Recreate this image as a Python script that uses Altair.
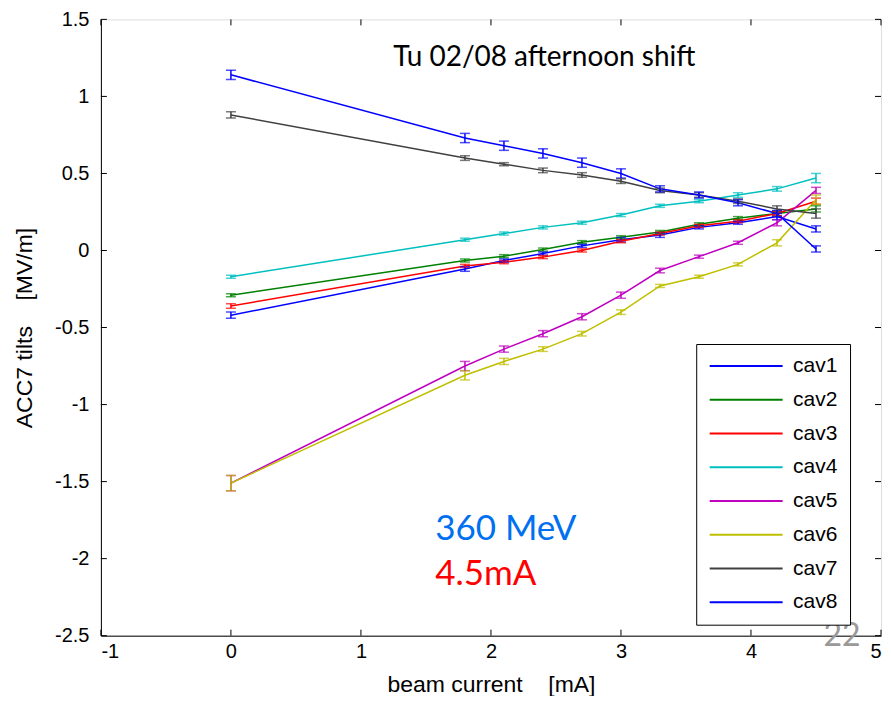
import altair as alt
import pandas as pd

# ---- data ----
beam_current = [0, 1.8, 2.1, 2.4, 2.7, 3.0, 3.3, 3.6, 3.9, 4.2, 4.5]
series_names = ["cav1", "cav2", "cav3", "cav4", "cav5", "cav6", "cav7", "cav8"]
cav1 = [-0.42, -0.12, -0.065, -0.02, 0.03, 0.07, 0.10, 0.15, 0.18, 0.22, 0.14]
cav2 = [-0.29, -0.065, -0.037, 0.006, 0.054, 0.086, 0.12, 0.17, 0.21, 0.24, 0.27]
cav3 = [-0.36, -0.10, -0.076, -0.043, 0.0, 0.06, 0.11, 0.16, 0.19, 0.24, 0.32]
cav4 = [-0.17, 0.07, 0.11, 0.15, 0.18, 0.23, 0.29, 0.32, 0.36, 0.40, 0.47]
cav5 = [-1.51, -0.75, -0.64, -0.54, -0.43, -0.29, -0.13, -0.04, 0.05, 0.18, 0.39]
cav6 = [-1.51, -0.81, -0.72, -0.64, -0.54, -0.40, -0.23, -0.17, -0.09, 0.05, 0.33]
cav7 = [0.88, 0.60, 0.56, 0.52, 0.49, 0.45, 0.39, 0.36, 0.32, 0.27, 0.24]
cav8 = [1.14, 0.73, 0.68, 0.63, 0.57, 0.50, 0.40, 0.36, 0.31, 0.24, 0.01]

err1 = [0.02, 0.015, 0.01, 0.01, 0.01, 0.015, 0.015, 0.01, 0.01, 0.02, 0.02]
err2 = [0.01, 0.01, 0.01, 0.01, 0.01, 0.01, 0.01, 0.01, 0.01, 0.015, 0.02]
err3 = [0.015, 0.01, 0.01, 0.01, 0.01, 0.01, 0.01, 0.01, 0.01, 0.015, 0.02]
err4 = [0.01, 0.01, 0.01, 0.01, 0.01, 0.01, 0.01, 0.01, 0.015, 0.015, 0.03]
err5 = [0.05, 0.03, 0.02, 0.02, 0.02, 0.02, 0.015, 0.01, 0.01, 0.02, 0.02]
err6 = [0.05, 0.03, 0.02, 0.015, 0.015, 0.015, 0.01, 0.01, 0.01, 0.02, 0.03]
err7 = [0.02, 0.015, 0.01, 0.015, 0.015, 0.015, 0.015, 0.015, 0.015, 0.02, 0.03]
err8 = [0.03, 0.03, 0.03, 0.03, 0.03, 0.03, 0.02, 0.02, 0.02, 0.02, 0.02]

colors = ["#0000ff", "#008000", "#ff0000", "#00bfbf", "#bf00bf", "#bfbf00", "#404040", "#0000ff"]

x_ticks = [-1, 0, 1, 2, 3, 4, 5]
y_ticks = [-2.5, -2, -1.5, -1, -0.5, 0, 0.5, 1, 1.5]

# ---- build table ----
values = [cav1, cav2, cav3, cav4, cav5, cav6, cav7, cav8]
errors = [err1, err2, err3, err4, err5, err6, err7, err8]
rows = []
for name, vals, errs in zip(series_names, values, errors):
    for xv, yv, ev in zip(beam_current, vals, errs):
        rows.append({"series": name, "x": xv, "y": yv, "lo": yv - ev, "hi": yv + ev})
df = pd.DataFrame(rows)

W, H = 781, 617
FONT = "Liberation Sans"
TICKFONT = "Liberation Sans Narrow, Liberation Sans"
NB = "\u00a0"
X_TITLE = "beam current" + NB * 4 + "[mA]"
Y_TITLE = "ACC7 tilts" + NB * 4 + "[MV/m]"

xscale = alt.Scale(domain=[-1, 5], nice=False, zero=False)
yscale = alt.Scale(domain=[-2.5, 1.5], nice=False, zero=False)

color = alt.Color(
    "series:N",
    scale=alt.Scale(domain=series_names, range=colors),
    sort=series_names,
    legend=alt.Legend(
        title=None,
        orient="none",
        legendX=596,
        legendY=325,
        symbolType="stroke",
        symbolSize=5330,
        symbolStrokeWidth=2,
        clipHeight=20,
        labelFont=FONT,
        labelFontSize=21,
        labelColor="#000000",
        strokeColor="#000000",
        fillColor="#ffffff",
        padding=12,
        rowPadding=12.8,
        labelOffset=9,
    ),
)

x_axis = alt.Axis(
    values=x_ticks,
    title=X_TITLE,
    titleFont=FONT,
    titleFontSize=23,
    titleFontWeight="normal",
    titleColor="#000000",
    titlePadding=12,
    labelFont=TICKFONT,
    labelFontSize=20,
    labelColor="#000000",
    labelPadding=6,
    tickSize=0,
    grid=False,
    domainColor="#000000",
    labelExpr="toString(datum.value)",
)
y_axis = alt.Axis(
    values=y_ticks,
    title=Y_TITLE,
    titleFont=FONT,
    titleFontSize=23,
    titleFontWeight="normal",
    titleColor="#000000",
    titlePadding=18,
    labelFont=TICKFONT,
    labelFontSize=20,
    labelColor="#000000",
    labelPadding=12,
    tickSize=0,
    grid=False,
    domainColor="#000000",
    labelExpr="toString(datum.value)",
)

base = alt.Chart(df)
lines = base.mark_line(strokeWidth=1.5).encode(
    x=alt.X("x:Q", scale=xscale, axis=x_axis, title=X_TITLE),
    y=alt.Y("y:Q", scale=yscale, axis=y_axis, title=Y_TITLE),
    color=color,
    detail="series:N",
)
bars = base.mark_errorbar(ticks=alt.MarkConfig(size=10), thickness=1.5).encode(
    x=alt.X("x:Q", scale=xscale, title=X_TITLE),
    y=alt.Y("lo:Q", scale=yscale, title=Y_TITLE),
    y2="hi:Q",
    color=alt.Color("series:N", scale=alt.Scale(domain=series_names, range=colors), legend=None),
    detail="series:N",
)

xt = pd.DataFrame({"t": x_ticks})
yt = pd.DataFrame({"t": y_ticks})
xtick_bot = alt.Chart(xt).mark_rule(color="#000000").encode(
    x=alt.X("t:Q", scale=xscale, title=X_TITLE), y=alt.value(H), y2=alt.value(H - 6))
xtick_top = alt.Chart(xt).mark_rule(color="#000000").encode(
    x=alt.X("t:Q", scale=xscale, title=X_TITLE), y=alt.value(0), y2=alt.value(6))
ytick_l = alt.Chart(yt).mark_rule(color="#000000").encode(
    y=alt.Y("t:Q", scale=yscale, title=Y_TITLE), x=alt.value(0), x2=alt.value(6))
ytick_r = alt.Chart(yt).mark_rule(color="#000000").encode(
    y=alt.Y("t:Q", scale=yscale, title=Y_TITLE), x=alt.value(W), x2=alt.value(W - 6))


def label(txt, xv, yv, size, col, align, baseline):
    d = pd.DataFrame({"text": [txt], "x": [xv], "y": [yv]})
    return alt.Chart(d).mark_text(
        font="Lato", fontSize=size, color=col, align=align, baseline=baseline
    ).encode(
        x=alt.X("x:Q", scale=xscale, title=X_TITLE),
        y=alt.Y("y:Q", scale=yscale, title=Y_TITLE),
        text="text:N",
    )


ann_text = label("Tu 02/08 afternoon shift", 2.41, 1.25, 28, "#000000", "center", "middle")
mev_text = label("360 MeV", 1.571, -1.88, 35, "#0070f0", "left", "alphabetic")
ma_text = label("4.5mA", 1.571, -2.17, 35, "#ff0000", "left", "alphabetic")
pg_text = label("22", 4.70, -2.565, 32, "#999999", "center", "alphabetic")

chart = alt.layer(
    lines, bars, xtick_bot, xtick_top, ytick_l, ytick_r, ann_text, mev_text, ma_text, pg_text
).properties(
    width=W,
    height=H,
    autosize=alt.AutoSizeParams(type="none"),
    padding={"left": 93, "top": 11, "right": 2, "bottom": 60},
).configure_view(
    stroke="#000000", strokeWidth=1.2
).configure(background="#ffffff")

chart.save("out.html", embed_options={"renderer": "svg", "actions": False})
